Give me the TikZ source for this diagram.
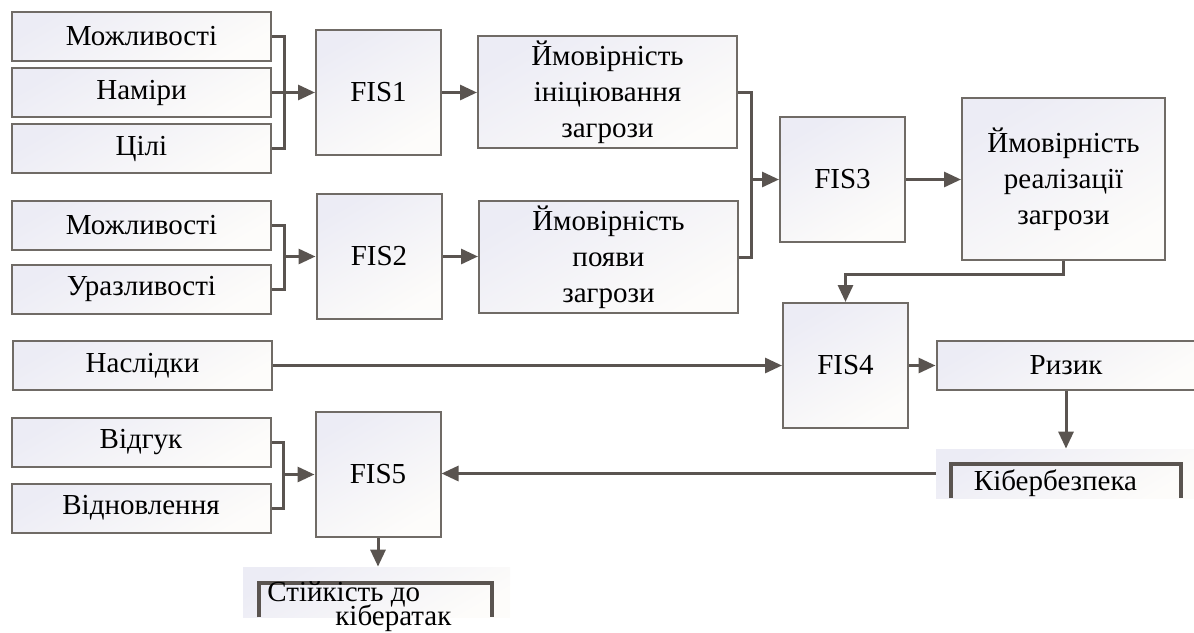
\documentclass[tikz,border=0pt]{standalone}
\usepackage{fontspec}
\setmainfont{Liberation Serif}
\usetikzlibrary{arrows.meta,calc}

\definecolor{boxtop}{RGB}{236,236,245}
\definecolor{boxbot}{RGB}{253,252,250}
\definecolor{lineclr}{RGB}{90,84,80}
\definecolor{edgeclr}{RGB}{112,107,102}

\begin{document}
\begin{tikzpicture}[x=0.5pt, y=-0.5pt,
            font=\fontsize{14.5}{18}\selectfont,
            block/.style={draw=edgeclr, line width=1pt, top color=boxtop, bottom color=boxbot, shading angle=30, inner sep=2pt, align=center},
            inBox/.style={block, minimum width=129.5pt, minimum height=24.5pt},
            fisBox/.style={block, minimum width=62.5pt, minimum height=62.5pt},
            probBox/.style={block, minimum width=129.5pt, minimum height=56pt},
            cutBox/.style={top color=boxtop, bottom color=boxbot, shading angle=30, inner sep=0pt},
            link/.style={draw=lineclr, line width=1.5pt},
            arrow/.style={link, -{Triangle[length=8.5pt, width=7.5pt]}},
            bracket/.style={draw=lineclr, line width=2pt}]

            \useasboundingbox (0,0) rectangle (1194,632);
            \clip (0,0) rectangle (1194,632);

            \node [inBox](capab1) at (141.5,36) {Можливості};
            \node [inBox](intent) at (141.5,92.5) {Наміри};
            \node [inBox](goals) at (141.5,148.5) {Цілі};
            \node [inBox](capab2) at (141.5,225) {Можливості};
            \node [inBox](vuln) at (141.5,289) {Уразливості};
            \node [inBox](conseq) at (142.5,365.5) {Наслідки};
            \node [inBox](response) at (141,442.5) {Відгук};
            \node [inBox](recovery) at (141,508) {Відновлення};

            \node [fisBox](fis1) at (378.5,92.5) {FIS1};
            \node [fisBox](fis2) at (379,256.5) {FIS2};
            \node [fisBox](fis3) at (842.5,179.5) {FIS3};
            \node [fisBox](fis4) at (845.5,365.5) {FIS4};
            \node [fisBox](fis5) at (378,474.5) {FIS5};

            \node [probBox](pInit) at (607.5,92) {Ймовірність\\ініціювання\\загрози};
            \node [probBox](pAppear) at (608.5,257) {Ймовірність\\появи\\загрози};
            \node [block, minimum width=101.5pt, minimum height=81pt](pReal) at (1063.5,179) {Ймовірність\\реалізації\\загрози};
            \node [inBox](risk) at (1066,365.5) {Ризик};

            \node [cutBox, minimum width=130pt, minimum height=24.5pt](cyber) at (1066,473.5) {};
            \draw [bracket] ([xshift=7.5pt]cyber.south west) |- ([xshift=-7.5pt, yshift=-7.5pt]cyber.north east) -- ([xshift=-7.5pt]cyber.south east);
            \node [anchor=base](cyberLbl) at (1055.5,490) {Кібербезпека};

            \node [cutBox, minimum width=133.5pt, minimum height=25pt](resil) at (376.5,592) {};
            \draw [bracket] ([xshift=8pt]resil.south west) |- ([xshift=-9pt, yshift=-8pt]resil.north east) -- ([xshift=-9pt]resil.south east);
            \node [anchor=base west, inner sep=0pt](resilLbl1) at (267,601) {Стійкість до};
            \node [anchor=base west, inner sep=0pt](resilLbl2) at (335,625) {кібератак};

            \coordinate (j1) at ($(fis1.west)+(-31,0)$);
            \draw [link] (capab1.east) -| (j1) |- (goals.east);
            \draw [arrow] (intent.east) -- (fis1.west);

            \coordinate (j2) at ($(fis2.west)+(-31,0)$);
            \draw [link] (capab2.east) -| (j2) |- (vuln.east);
            \draw [arrow] (j2) -- (fis2.west);

            \draw [arrow] (fis1.east) -- (fis1.east -| pInit.west);
            \draw [arrow] (fis2.east) -- (fis2.east -| pAppear.west);

            \coordinate (j3) at ($(fis3.west)+(-28,0)$);
            \draw [link] (pInit.east) -| (j3) |- (pAppear.east);
            \draw [arrow] (j3) -- (fis3.west);
            \draw [arrow] (fis3.east) -- (fis3.east -| pReal.west);
            \draw [arrow] (pReal.south) -- ++(0,13) -| (fis4.north);

            \draw [arrow] (conseq.east) -- (fis4.west);
            \draw [arrow] (fis4.east) -- (risk.west);
            \draw [arrow] (risk.south) -- (risk.south |- cyber.north);
            \draw [arrow] (cyber.west) -- (cyber.west -| fis5.east);

            \coordinate (j5) at ($(fis5.west)+(-31,0)$);
            \draw [link] (response.east) -| (j5) |- (recovery.east);
            \draw [arrow] (j5) -- (fis5.west);
            \draw [arrow] (fis5.south) -- (fis5.south |- resil.north);
        \end{tikzpicture}
\end{document}
